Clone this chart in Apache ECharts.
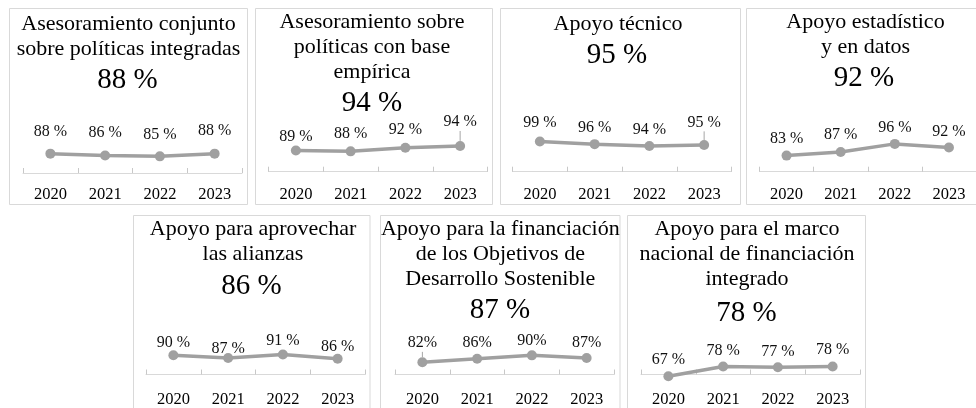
<!DOCTYPE html>
<html>
<head>
<meta charset="utf-8">
<title>Apoyo por tipo</title>
<script src="https://cdn.jsdelivr.net/npm/echarts@6/dist/echarts.min.js"></script>
<style>
  html, body { margin: 0; padding: 0; background: #fff; overflow: hidden; }
  #chart { width: 976px; height: 408px; }
</style>
</head>
<body>
<div id="chart"></div>
<script>
const years = ['2020', '2021', '2022', '2023'];
const titles = [
  'Asesoramiento conjunto\nsobre políticas integradas',
  'Asesoramiento sobre\npolíticas con base\nempírica',
  'Apoyo técnico',
  'Apoyo estadístico\ny en datos',
  'Apoyo para aprovechar\nlas alianzas',
  'Apoyo para la financiación\nde los Objetivos de\nDesarrollo Sostenible',
  'Apoyo para el marco\nnacional de financiación\nintegrado'
];
const headline = [88, 94, 95, 92, 86, 87, 78];

const asesoramientoConjunto = [88, 86, 85, 88];
const asesoramientoEmpirico = [89, 88, 92, 94];
const apoyoTecnico = [99, 96, 94, 95];
const apoyoEstadistico = [83, 87, 96, 92];
const apoyoAlianzas = [90, 87, 91, 86];
const apoyoODS = [82, 86, 90, 87];
const apoyoMarco = [67, 78, 77, 78];
const seriesValues = [asesoramientoConjunto, asesoramientoEmpirico, apoyoTecnico,
  apoyoEstadistico, apoyoAlianzas, apoyoODS, apoyoMarco];
const labelSuffix = [' %', ' %', ' %', ' %', ' %', '%', ' %'];

// layout of each small panel (px); lift = label baseline above the point, leader = label moved by hand
const panels = [
  {box: [9.5, 8.5, 238, 196], cx: 128.5, bigCx: 127.5, titleTop: 11.8, bigTop: 64.2, axisX: 23, axisY: 173, min: 66.5, margin: 13.5, lift: [16.7, 17.7, 16.7, 17.7], leader: []},
  {box: [255.5, 8.5, 237, 196], cx: 372, bigCx: 372, titleTop: 10.1, bigTop: 87.5, axisX: 268.5, axisY: 171.7, min: 65.4, margin: 14.5, lift: [9, 12.7, 12.7, 19], leader: [3]},
  {box: [500.5, 8.5, 240, 196], cx: 618, bigCx: 617, titleTop: 11.8, bigTop: 39.2, axisX: 512.5, axisY: 171.7, min: 65.4, margin: 14.5, lift: [14, 11.6, 10.7, 17.7], leader: [3]},
  {box: [746.5, 8.5, 239, 196], cx: 865.5, bigCx: 864, titleTop: 10.1, bigTop: 62.5, axisX: 759.5, axisY: 171.7, min: 65.1, margin: 14.5, lift: [11.7, 12.3, 10.7, 11], leader: []},
  {box: [133.5, 215.5, 236.5, 200], cx: 253, bigCx: 251.5, titleTop: 216.8, bigTop: 269.9, axisX: 146, axisY: 375.7, min: 68, margin: 16.5, lift: [7, 4.3, 8.3, 6.6], leader: []},
  {box: [380.5, 215.5, 239.5, 200], cx: 500.3, bigCx: 500, titleTop: 216.8, bigTop: 294.2, axisX: 395, axisY: 376.7, min: 67.5, margin: 16.5, lift: [14.3, 11, 10, 10.3], leader: [0]},
  {box: [627.5, 215.5, 238, 200], cx: 747, bigCx: 746.5, titleTop: 217.1, bigTop: 297.5, axisX: 641, axisY: 375, min: 68.9, margin: 16.5, lift: [11, 11, 10.6, 11.7], leader: []}
];

const serif = "'Liberation Serif', 'Times New Roman', serif";
const plotH = 40;
const pxPerPoint = 0.9;

const option = {
  backgroundColor: '#fff',
  animation: false,
  title: [],
  grid: [],
  xAxis: [],
  yAxis: [],
  series: [],
  graphic: []
};

panels.forEach((p, i) => {
  option.graphic.push({
    type: 'rect',
    shape: {x: p.box[0], y: p.box[1], width: p.box[2], height: p.box[3]},
    style: {fill: 'none', stroke: '#d9d9d9', lineWidth: 1},
    silent: true
  });
  option.title.push({
    text: titles[i],
    left: p.cx, top: p.titleTop, textAlign: 'center', padding: 0,
    textStyle: {fontFamily: serif, fontSize: 22, lineHeight: 25, fontWeight: 'normal', color: '#000'}
  });
  option.title.push({
    text: headline[i] + ' %',
    left: p.bigCx, top: p.bigTop, textAlign: 'center', padding: 0,
    textStyle: {fontFamily: serif, fontSize: 29, lineHeight: 32, fontWeight: 'normal', color: '#000'}
  });
  option.grid.push({left: p.axisX, top: p.axisY - plotH, width: 219, height: plotH});
  option.xAxis.push({
    type: 'category', gridIndex: i, data: years, boundaryGap: true,
    axisLine: {show: true, lineStyle: {color: '#d9d9d9', width: 1}},
    axisTick: {show: true, alignWithLabel: false, interval: 0, inside: true, length: 5,
      lineStyle: {color: '#c8c8c8', width: 1}},
    splitLine: {show: false},
    axisLabel: {fontFamily: serif, fontSize: 16.5, color: '#000', margin: p.margin}
  });
  option.yAxis.push({
    type: 'value', gridIndex: i, show: false,
    min: p.min, max: p.min + plotH / pxPerPoint
  });
  option.series.push({
    type: 'line', xAxisIndex: i, yAxisIndex: i,
    data: seriesValues[i].map((v, j) => ({value: v, label: {offset: [0, -(p.lift[j] + 5)]}})),
    symbol: 'circle', symbolSize: 10, clip: false,
    lineStyle: {color: '#a0a0a0', width: 3.5},
    itemStyle: {color: '#a0a0a0'},
    label: {
      show: true, position: 'inside',
      fontFamily: serif, fontSize: 16, color: '#111',
      formatter: params => params.value + labelSuffix[i]
    },
    emphasis: {disabled: true}
  });
});

const chart = echarts.init(document.getElementById('chart'));
chart.setOption(option);

// leader lines for the labels that were dragged away from their point
const leaders = [];
panels.forEach((p, i) => {
  p.leader.forEach(j => {
    const pt = chart.convertToPixel({seriesIndex: i}, [j, seriesValues[i][j]]);
    leaders.push({
      type: 'line', silent: true,
      shape: {x1: pt[0], y1: pt[1] - p.lift[j] + 4, x2: pt[0], y2: pt[1] - 5},
      style: {stroke: '#a6a6a6', lineWidth: 1}
    });
  });
});
chart.setOption({graphic: option.graphic.concat(leaders)});
window.onresize = chart.resize;
</script>
</body>
</html>
